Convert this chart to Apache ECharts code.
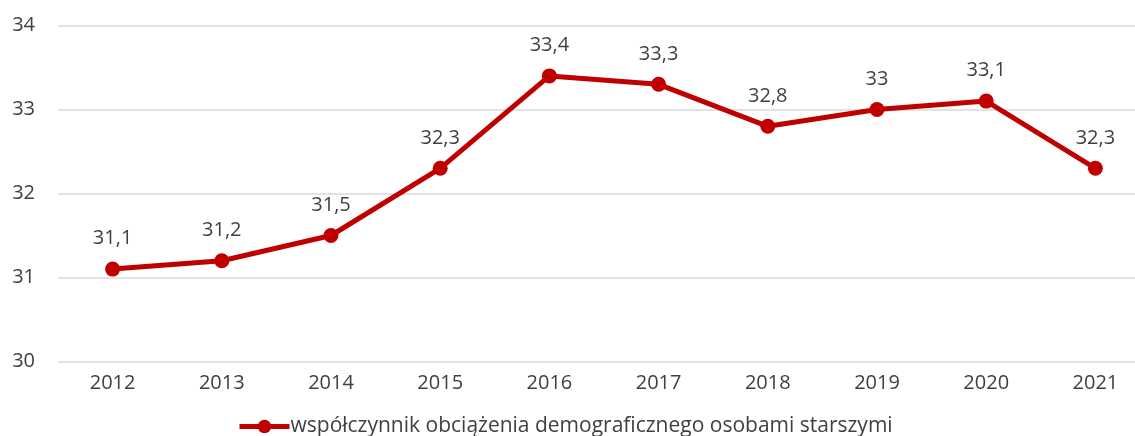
<!DOCTYPE html>
<html>
<head>
<meta charset="utf-8">
<script src="https://cdn.jsdelivr.net/npm/echarts@6/dist/echarts.min.js"></script>
<style>
  html, body { margin: 0; padding: 0; background: #fff; }
  #chart { width: 1135px; height: 436px; }
</style>
</head>
<body>
<div id="chart"></div>
<script>
var years = ['2012', '2013', '2014', '2015', '2016', '2017', '2018', '2019', '2020', '2021'];
var values = [31.1, 31.2, 31.5, 32.3, 33.4, 33.3, 32.8, 33, 33.1, 32.3];
var seriesName = 'współczynnik obciążenia demograficznego osobami starszymi';

var textColor = '#404040';
var lineColor = '#C00000';
var fontName = 'Open Sans';

var myChart = echarts.init(document.getElementById('chart'));

var option = {
    animation: false,
    textStyle: { fontFamily: fontName },
    grid: {
        left: 58,
        width: 1092,
        top: 25.5,
        height: 336,
        outerBoundsMode: 'none'
    },
    legend: {
        data: [seriesName],
        left: 232,
        top: 411,
        itemWidth: 50,
        itemHeight: 17,
        itemGap: 0,
        lineStyle: { width: 5 },
        textStyle: { color: textColor, fontSize: 21, fontFamily: fontName, padding: [0, 0, 0, -4] }
    },
    xAxis: {
        type: 'category',
        data: years,
        boundaryGap: true,
        axisLine: { show: false },
        axisTick: { show: false },
        axisLabel: { color: textColor, fontSize: 20, margin: 12 }
    },
    yAxis: {
        type: 'value',
        min: 30,
        max: 34,
        interval: 1,
        axisLine: { show: false },
        axisTick: { show: false },
        axisLabel: { color: textColor, fontSize: 20, margin: 23 },
        splitLine: { lineStyle: { color: '#d9d9d9', width: 1.5 } }
    },
    series: [{
        name: seriesName,
        type: 'line',
        data: values,
        symbol: 'circle',
        symbolSize: 15,
        lineStyle: { color: lineColor, width: 5 },
        itemStyle: { color: lineColor },
        label: {
            show: true,
            position: 'top',
            distance: 13,
            color: textColor,
            fontSize: 20,
            formatter: function(p) {
                return String(p.value).replace('.', ',');
            }
        }
    }]
};

myChart.setOption(option);
</script>
</body>
</html>
